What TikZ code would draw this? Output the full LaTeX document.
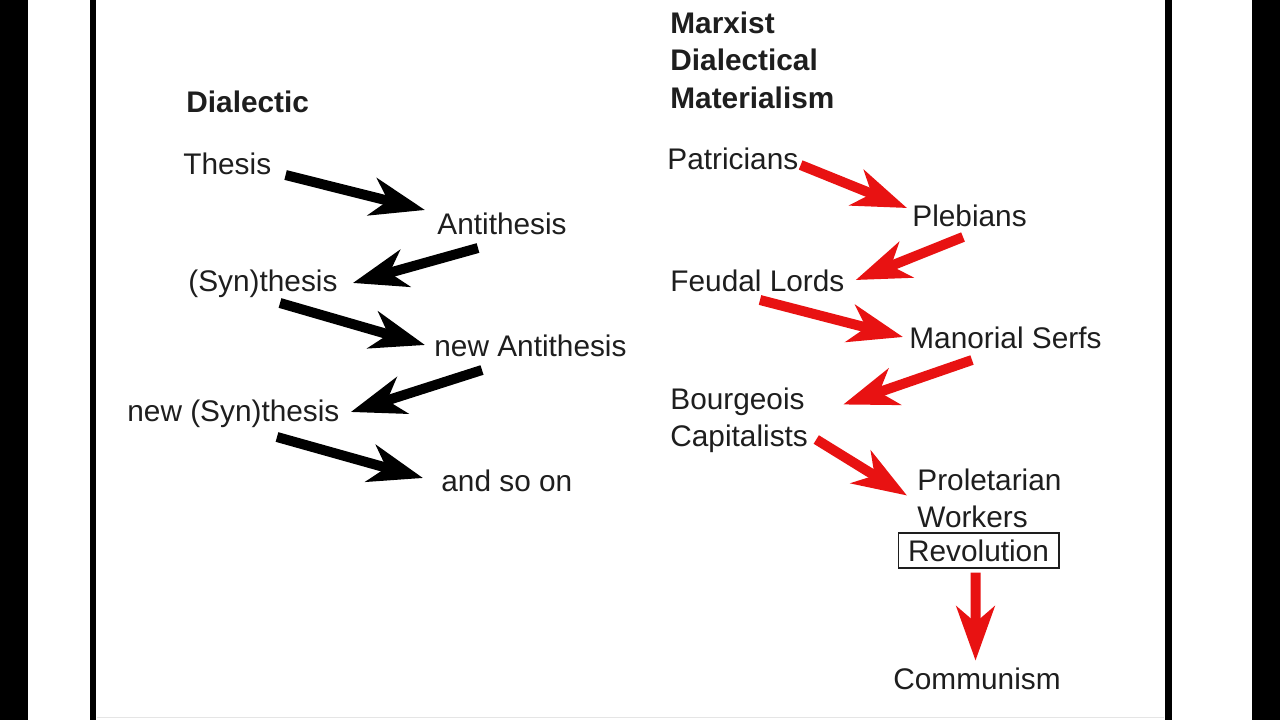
\documentclass[tikz,border=0pt]{standalone}
\usepackage{fontspec}
\setmainfont{Liberation Sans}
\usetikzlibrary{arrows.meta}
\definecolor{crouge}{RGB}{232,18,18}
\definecolor{ctexte}{RGB}{30,30,30}
\newcommand\taille{\fontsize{14.9}{18.75}\selectfont}

\begin{document}
\begin{tikzpicture}[x=0.5pt, y=-0.5pt, font=\taille,
  mot/.style={anchor=west, inner sep=0pt, text height=12.5pt, text depth=1.5pt, text=ctexte},
  bloc/.style={anchor=west, inner sep=0pt, align=left, text=ctexte},
  fleche/.style={line width=5pt, -{Stealth[length=27pt,width=19pt,inset=8pt]}},
  flecherouge/.style={fleche, crouge}]
\useasboundingbox (0,0) rectangle (1280,720);
\fill[white] (0,0) rectangle (1280,720);
\fill[black] (0,0) rectangle (28,720);
\fill[black] (1252,0) rectangle (1280,720);
\draw[line width=3pt] (93,0) -- (93,720);
\draw[line width=3.5pt] (1168,0) -- (1168,720);
\draw[gray!20] (97,717) -- (1164,717);
% dialectic
\node[mot,font=\taille\bfseries] (dlc) at (186,101) {Dialectic};
\node[mot] (th) at (183,163) {Thesis};
\node[mot] (anti) at (437,223) {Antithesis};
\node[mot] (syn) at (188,280) {(Syn)thesis};
\node[mot] (nanti) at (434,345) {new Antithesis};
\node[mot] (nsyn) at (127,410) {new (Syn)thesis};
\node[mot] (soon) at (441,480) {and so on};
\draw[fleche] ([shift={(14,12)}]th.east) -- ([shift={(-12,-13)}]anti.west);
\draw[fleche] ([shift={(41,25)}]anti.west) -- ([shift={(15,3)}]syn.east);
\draw[fleche] ([shift={(92,23)}]syn.west) -- ([shift={(-9,0)}]nanti.west);
\draw[fleche] ([shift={(48,25)}]nanti.west) -- ([shift={(11,2)}]nsyn.east);
\draw[fleche] ([shift={(150,27)}]nsyn.west) -- ([shift={(-18,-2)}]soon.west);
% marxist version
\node[bloc,font=\taille\bfseries] (mdm) at (670,60) {Marxist\\Dialectical\\Materialism};
\node[mot] (patr) at (667,158) {Patricians};
\node[mot] (pleb) at (912,215) {Plebians};
\node[mot] (feud) at (670,280) {Feudal Lords};
\node[mot] (serf) at (909,337) {Manorial Serfs};
\node[bloc] (bourg) at (670,420.5) {Bourgeois\\Capitalists};
\node[bloc] (prol) at (917,498.5) {Proletarian\\Workers};
\node[mot,anchor=center,draw=ctexte,line width=0.6pt,text height=10.7pt,text depth=0pt,inner xsep=5pt,inner ysep=3.4pt] (revo) at (978.5,550.5) {Revolution};
\node[mot] (comm) at (893,678) {Communism};
\draw[flecherouge] ([shift={(2,7)}]patr.east) -- ([shift={(-5,-7)}]pleb.west);
\draw[flecherouge] ([shift={(51,22)}]pleb.west) -- ([shift={(11,0)}]feud.east);
\draw[flecherouge] ([shift={(90,20)}]feud.west) -- ([shift={(-6,0)}]serf.west);
\draw[flecherouge] ([shift={(63,23)}]serf.west) -- ([shift={(35,-16)}]bourg.east);
\draw[flecherouge] ([shift={(8,19)}]bourg.east) -- ([shift={(-10,-3)}]prol.west);
\draw[flecherouge] ([shift={(-3,4)}]revo.south) -- ([shift={(-1.5,-3)}]comm.north);
\end{tikzpicture}
\end{document}
